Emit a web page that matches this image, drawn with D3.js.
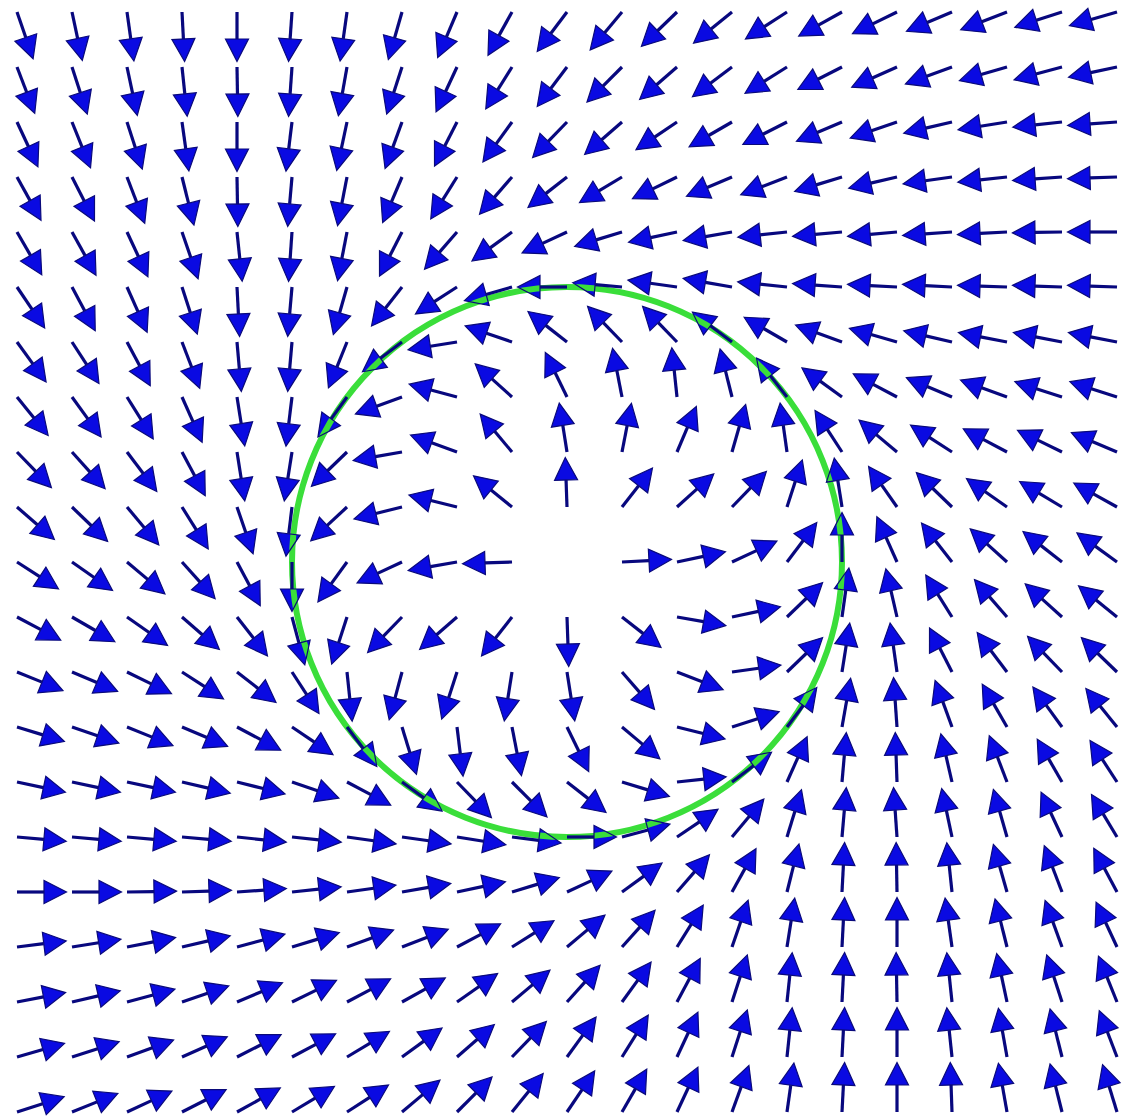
<!DOCTYPE html>
<html>
<head>
<meta charset="utf-8">
<script src="https://cdn.jsdelivr.net/npm/d3@7/dist/d3.min.js"></script>
<style>
  html, body { margin: 0; padding: 0; background: #fff; }
  svg { display: block; }
</style>
</head>
<body>
<div id="chart"></div>
<script>
  // grid of the direction field
  const gridX = [-2, -1.8, -1.6, -1.4, -1.2, -1, -0.8, -0.6, -0.4, -0.2, 0, 0.2, 0.4, 0.6, 0.8, 1, 1.2, 1.4, 1.6, 1.8, 2];
  const gridY = [2, 1.8, 1.6, 1.4, 1.2, 1, 0.8, 0.6, 0.4, 0.2, 0, -0.2, -0.4, -0.6, -0.8, -1, -1.2, -1.4, -1.6, -1.8, -2];

  // arrow direction (degrees, counter-clockwise from +x), one row per gridY value
  const angles = [
    [-71, -78, -82, -87, -90, -94, -98, -106, -113, -119, -127, -130, -136, -141, -147, -151, -154, -157, -159, -162, -164],
    [-69, -72, -78, -84, -89, -94, -100, -108, -115, -122, -127, -135, -139, -143, -148, -153, -156, -160, -164, -165, -168],
    [-65, -68, -72, -82, -90, -97, -102, -110, -117, -126, -134, -139, -146, -150, -153, -157, -161, -167, -171, -174, -176],
    [-61, -63, -69, -76, -89, -95, -101, -113, -122, -131, -142, -149, -154, -157, -159, -163, -167, -172, -174, -176, -178],
    [-60, -61, -65, -71, -84, -94, -101, -117, -131, -144, -155, -163, -168, -170, -174, -175, -175, -176, -177, -179, 180],
    [-56, -62, -66, -72, -87, -95, -106, -128, -147, -164, 180, 175, 172, 170, 174, 176, 177, 177, 178, 178, 178],
    [-54, -57, -62, -69, -85, -95, -112, -143, -171, 161, 142, 134, 134, 143, 150, 160, 164, 167, 169, 169, 169],
    [-51, -54, -58, -66, -81, -97, -126, -160, 165, 138, 116, 101, 96, 104, 128, 144, 152, 157, 160, 162, 162],
    [-46, -48, -53, -62, -81, -99, -136, -170, 160, 130, 99, 79, 67, 74, 98, 123, 140, 147, 152, 154, 157],
    [-41, -44, -50, -58, -71, -97, -137, -166, 166, 141, 92, 52, 42, 46, 72, 99, 125, 136, 145, 149, 151],
    [-33, -35, -40, -48, -62, -90, -126, -155, -170, -178, null, 3, 12, 25, 53, 90, 114, 128, 138, 142, 144],
    [-28, -30, -35, -41, -52, -75, -108, -134, -139, -128, -88, -38, -10, 12, 44, 82, 103, 122, 131, 138, 141],
    [-22, -23, -26, -33, -38, -57, -84, -105, -108, -99, -81, -49, -21, 8, 44, 81, 98, 117, 127, 134, 136],
    [-17, -19, -22, -23, -28, -34, -53, -73, -83, -79, -64, -40, -14, 18, 53, 80, 94, 110, 120, 126, 129],
    [-12, -12, -12, -13, -14, -19, -28, -36, -46, -45, -38, -17, 6, 37, 66, 85, 92, 103, 111, 120, 123],
    [-5, -5, -5, -5, -6, -6, -8, -8, -9, -7, 0, 15, 34, 50, 73, 85, 94, 102, 106, 115, 121],
    [0, 0, 1, 2, 4, 6, 8, 10, 12, 17, 25, 36, 49, 61, 76, 87, 91, 96, 106, 111, 118],
    [7, 9, 11, 13, 15, 17, 20, 21, 28, 32, 40, 48, 58, 71, 81, 87, 90, 98, 104, 110, 115],
    [11, 13, 15, 19, 23, 26, 28, 29, 35, 40, 48, 54, 62, 72, 84, 87, 91, 96, 102, 108, 112],
    [16, 18, 20, 24, 27, 28, 31, 36, 41, 46, 54, 58, 65, 72, 84, 87, 90, 96, 100, 104, 111],
    [18, 22, 25, 27, 29, 31, 33, 40, 45, 51, 56, 60, 65, 70, 82, 87, 90, 92, 100, 104, 107]
  ];

  const cycleRadius = 1;     // limit cycle
  const arrowLength = 0.18;  // normalised arrow length in data units

  const W = 1122, H = 1117;
  const headLen = 22.5, headHalf = 11.5;

  const x = d3.scaleLinear().domain([-2, 2]).range([17, 1117]);
  const y = d3.scaleLinear().domain([2, -2]).range([12, 1112]);

  const svg = d3.select('#chart')
    .append('svg')
    .attr('width', W)
    .attr('height', H);

  svg.append('rect').attr('width', W).attr('height', H).attr('fill', '#fff');

  // build arrows from the tables
  const arrows = [];
  angles.forEach((row, j) => {
    row.forEach((a, i) => {
      if (a === null) return;
      const rad = a * Math.PI / 180;
      const x0 = gridX[i], y0 = gridY[j];
      const x1 = x0 + arrowLength * Math.cos(rad);
      const y1 = y0 + arrowLength * Math.sin(rad);
      const X0 = x(x0), Y0 = y(y0), X1 = x(x1), Y1 = y(y1);
      const len = Math.hypot(X1 - X0, Y1 - Y0);
      const ux = (X1 - X0) / len, uy = (Y1 - Y0) / len;
      const bx = X1 - ux * headLen, by = Y1 - uy * headLen;
      arrows.push({
        X0, Y0, X1, Y1, bx, by,
        head: [[X1, Y1], [bx - uy * headHalf, by + ux * headHalf], [bx + uy * headHalf, by - ux * headHalf]]
      });
    });
  });

  const line = d3.line();

  // head fills
  svg.append('g').attr('class', 'heads-fill')
    .selectAll('path')
    .data(arrows)
    .join('path')
    .attr('d', d => line(d.head) + 'Z')
    .attr('fill', '#0a0ae2')
    .attr('stroke', 'none');

  // limit cycle
  svg.append('circle')
    .attr('cx', x(0))
    .attr('cy', y(0))
    .attr('r', x(cycleRadius) - x(0))
    .attr('fill', 'none')
    .attr('stroke', '#3ade3a')
    .attr('stroke-width', 6);

  // shafts and head outlines on top
  const g = svg.append('g').attr('class', 'strokes');
  g.selectAll('line')
    .data(arrows)
    .join('line')
    .attr('x1', d => d.X0)
    .attr('y1', d => d.Y0)
    .attr('x2', d => d.bx)
    .attr('y2', d => d.by)
    .attr('stroke', '#08087e')
    .attr('stroke-width', 3.2)
    .attr('stroke-linecap', 'butt');

  g.selectAll('path')
    .data(arrows)
    .join('path')
    .attr('d', d => line(d.head) + 'Z')
    .attr('fill', 'none')
    .attr('stroke', '#0a0a7a')
    .attr('stroke-width', 1.2)
    .attr('stroke-linejoin', 'miter');
</script>
</body>
</html>
